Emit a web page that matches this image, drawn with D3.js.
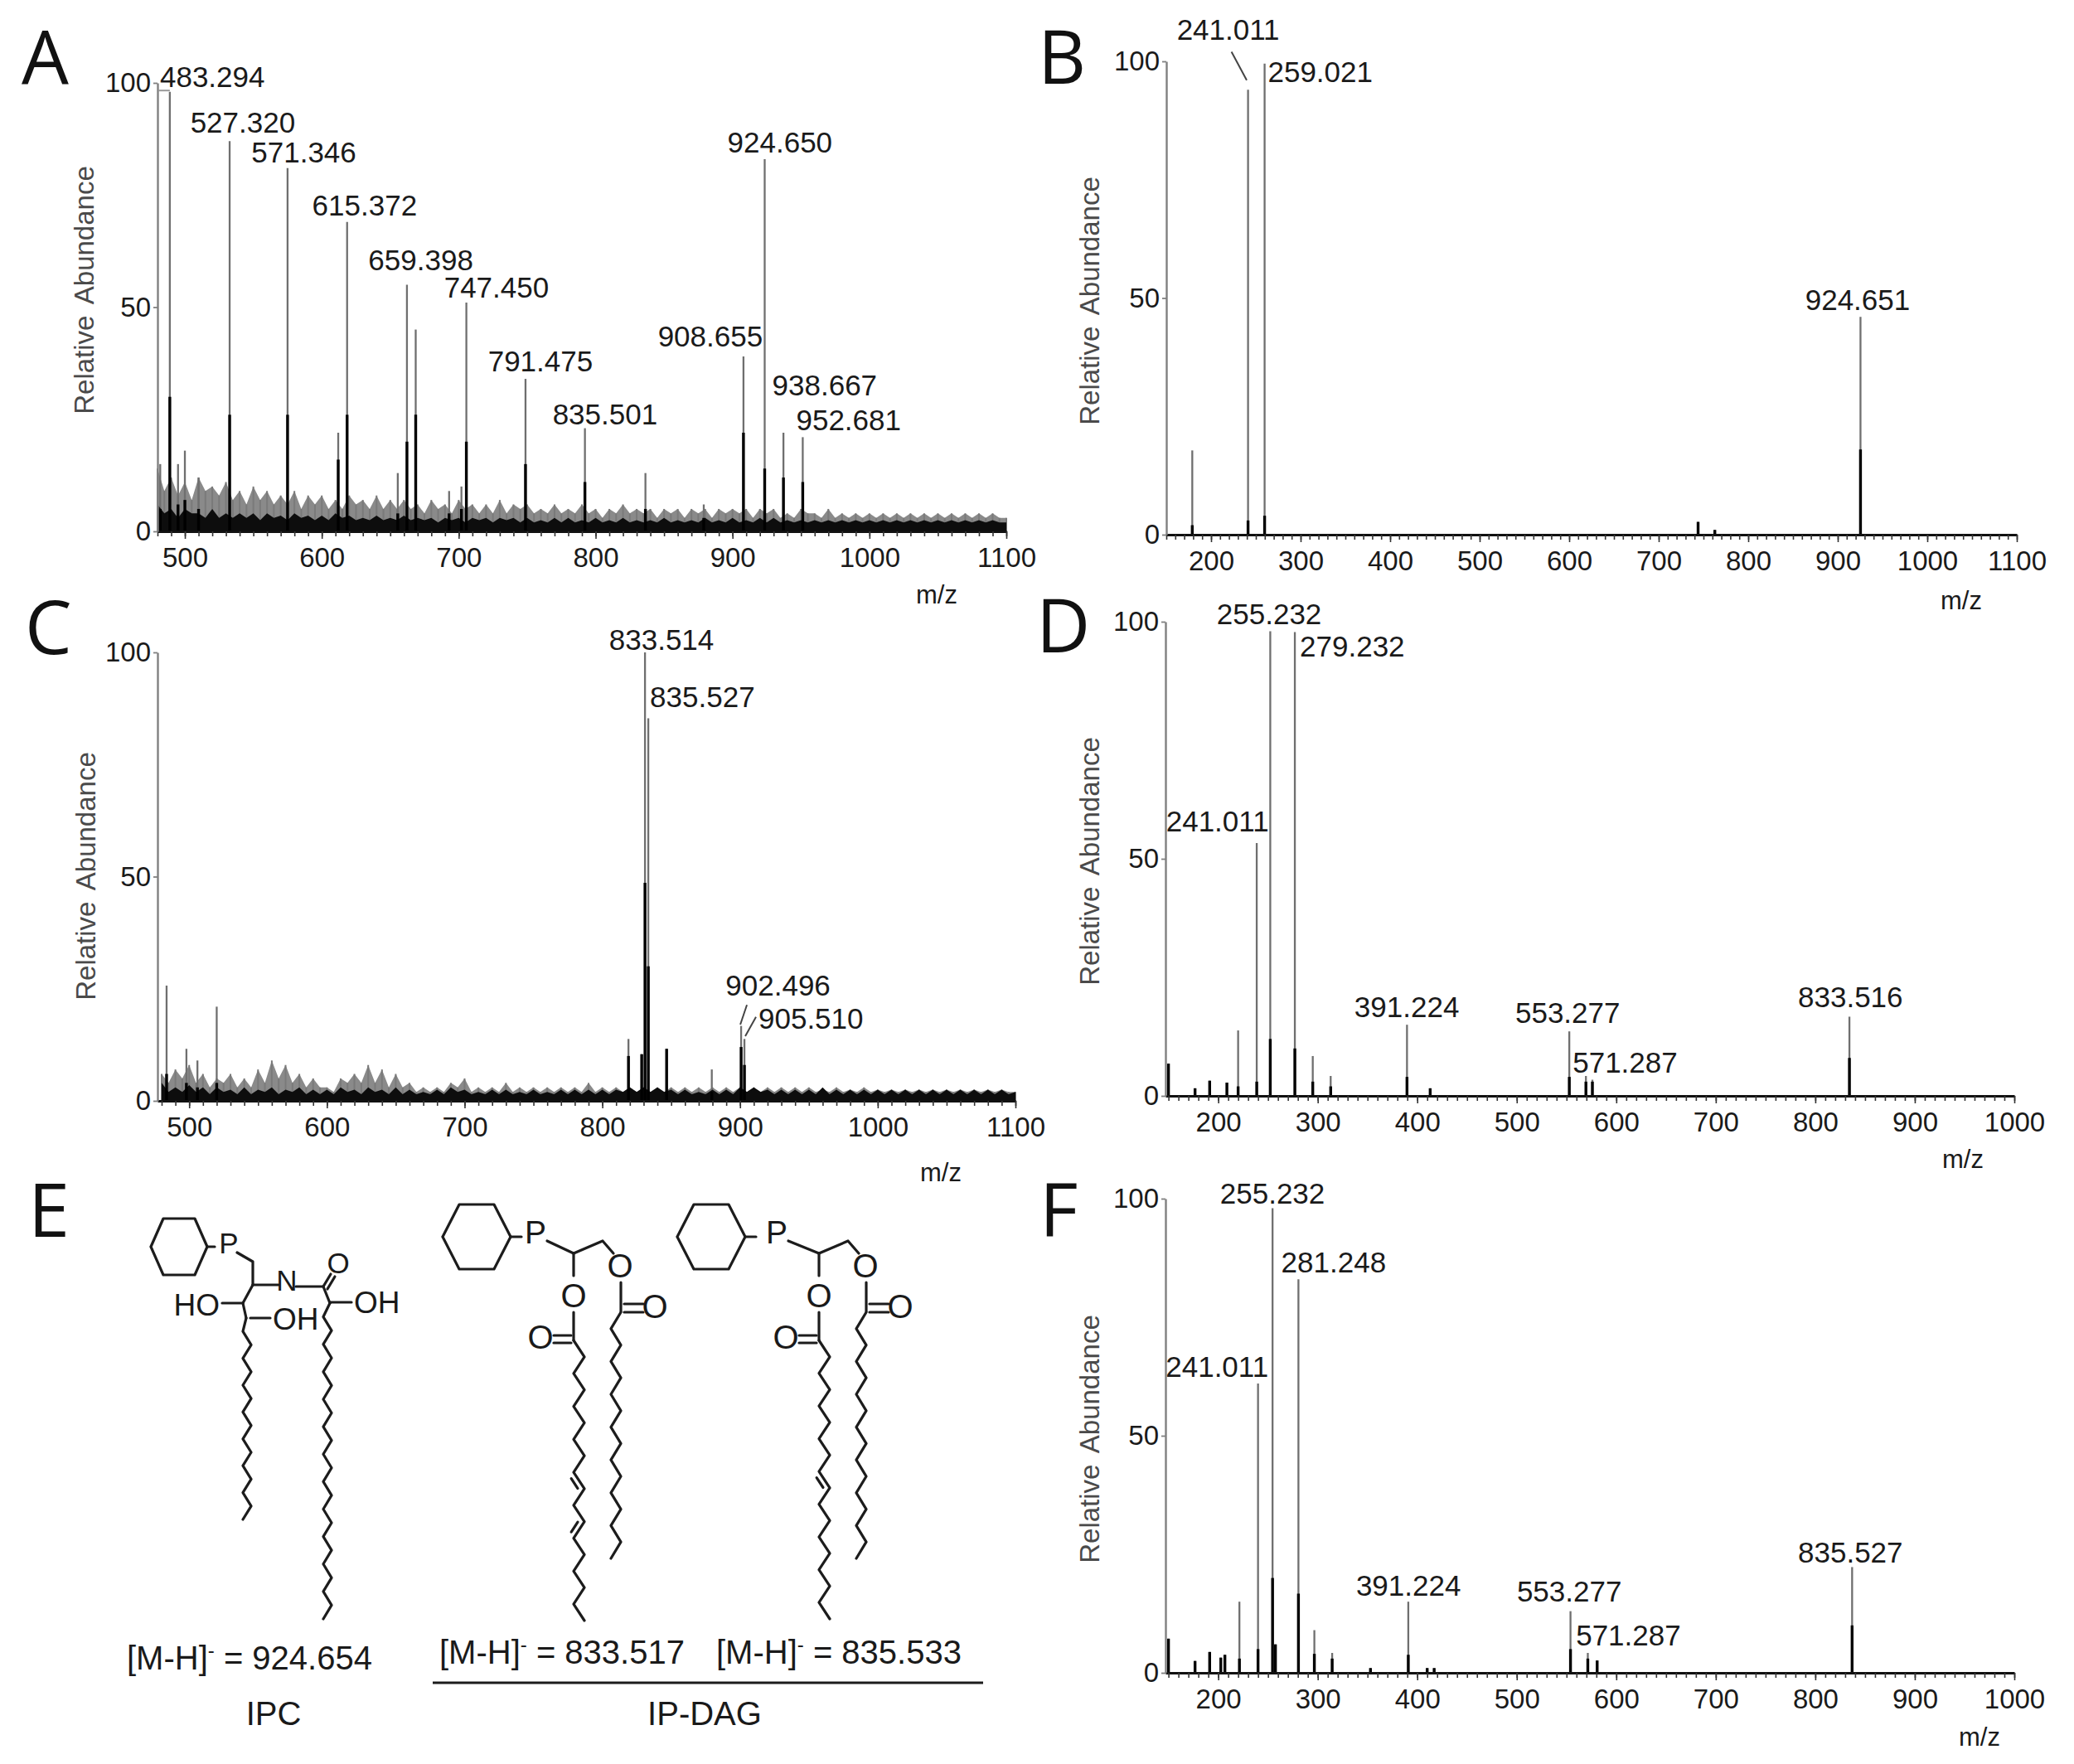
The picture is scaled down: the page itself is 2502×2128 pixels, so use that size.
<!DOCTYPE html>
<html><head><meta charset="utf-8">
<script src="https://cdn.jsdelivr.net/npm/d3@7"></script>
<style>
body{margin:0;background:#fff}
text{font-family:"Liberation Sans",Arimo,Arial,sans-serif;fill:#1a1a1a}
</style>
</head><body><script>
// ---------------- DATA ----------------
// noise grid (m/z) for panels A and C
const noiseStart = 480, noiseStep = 5, noiseEnd = 1100;

// Panel A (full MS)
const ticksA = [500,600,700,800,900,1000,1100];
const peaksA_mz   = [482, 489, 495, 500, 510, 532.7, 575, 612, 618.5, 655.5, 662.2, 668.6, 693, 702, 705.6, 748.8, 792.2, 836.4, 879, 908, 923.5, 937.2, 951.3];
const peaksA_int  = [15, 98, 15, 18, 12, 87, 81, 22, 69, 13, 55, 45, 9, 10, 51, 34, 23, 13, 6, 39, 83, 22, 21];
const peaksA_core = [5, 30, 6, 7, 5, 26, 26, 16, 26, 4, 20, 26, 4, 5, 20, 15, 11, 5, 3, 22, 14, 12, 11];
const labelsA_text = ["483.294","527.320","571.346","615.372","659.398","747.450","791.475","835.501","908.655","924.650","938.667","952.681"];
const labelsA_mz   = [481.8, 542.3, 586.9, 631.3, 672.3, 727.6, 759.7, 806.9, 883.8, 934.6, 967.3, 984.8];
const labelsA_ab   = [99.1, 88.9, 82.3, 70.4, 58.2, 52.1, 35.7, 23.8, 41.2, 84.5, 30.3, 22.6];
const labelsA_anchor = ["start","middle","middle","middle","middle","middle","middle","middle","middle","middle","middle","middle"];
const noiseA_gray = [
 14,9,12,8,11,7,12,9,10,8,11,7,
 9,6,10,7,9,6,8,6,9,5,8,6,
 8,5,7,5,8,6,7,5,8,5,7,5,
 7,5,6,4,7,5,6,4,7,5,6,4,
 6,4,7,4,6,5,6,4,5,4,6,4,
 5,4,6,4,5,3,5,4,6,4,5,4,
 5,3,5,4,5,3,5,4,5,3,5,4,
 5,4,5,3,5,4,5,3,4,3,5,4,
 4,3,5,3,4,3,4,3,4,3,4,3,
 4,3,4,3,4,3,4,3,4,3,4,3,
 4,3,4,3,3];
const noiseA_black = [
 6,4,5,3,5,4,4,3,5,3,4,3,
 4,3,4,2.5,4,3,3.5,2.5,4,3,3.5,2.5,
 3.5,2.5,4,3,3.5,2.5,3,2.5,3.5,2.5,3,2.5,
 3.5,2.5,3,2.5,3,2,3,2.5,3,2,3,2.5,
 3,2,3,2.5,3,2,3,2,2.5,2,3,2,
 3,2,2.5,2,3,2,2.5,2,3,2,2.5,2,
 2.5,2,3,2,2.5,2,2.5,2,3,2,2.5,2,
 3,2,2.5,2,3,2,3,2,2.5,2,2.5,2,
 2.5,2,2.5,2,2.5,2,2.5,2,2.5,2,2.5,2,
 2.5,2,2.5,2,2.5,2,2.5,2,2.5,2,2.5,2,
 2.5,2,2.5,2,2];

// Panel B (MS/MS of 924.65)
const ticksB = [200,300,400,500,600,700,800,900,1000,1100];
const peaksB_mz   = [179, 241.3, 259.8, 744, 762.7, 925.4];
const peaksB_int  = [17.8, 94, 99.5, 2.7, 1, 46];
const peaksB_core = [2, 3, 4, 2.7, 1, 18];
const labelsB_text = ["241.011","259.021","924.651"];
const labelsB_mz   = [219.1, 263.4, 922.2];
const labelsB_ab   = [104.6, 95.6, 47.5];
const labelsB_anchor = ["middle","start","middle"];

// Panel C (full MS)
const ticksC = [500,600,700,800,900,1000,1100];
const peaksC_mz   = [483.6, 498, 506, 520, 819, 828.6, 831, 833.4, 846.7, 879.5, 900.8, 903.2];
const peaksC_int  = [25.7, 11.6, 9, 21, 13.8, 10.4, 100, 85.3, 11.6, 7, 16.7, 13.8];
const peaksC_core = [6, 4, 3, 4, 10, 10.4, 48.6, 30, 11.6, 2, 12, 8];
const labelsC_text = ["833.514","835.527","902.496","905.510"];
const labelsC_mz   = [843, 834.6, 927.6, 913.4];
const labelsC_ab   = [100.6, 87.8, 23.4, 16.1];
const labelsC_anchor = ["middle","start","middle","start"];
const noiseC_gray = [
 6,4,7,5,8,4,6,3,5,4,6,3,
 5,3,7,4,9,5,8,4,6,3,5,3,
 3,2,5,4,6,4,8,4,7,3,6,3,
 4,2,3,2,3,2,4,3,5,2,3,2,
 3,2,4,2,3,2,3,2,3,2,3,2,
 3,2,4,2,3,2,3,2,3,2,3,2,
 3,2,3,2,3,2,3,2,3,2,3,2,
 3,2,3,2,3,2,3,2,3,2,3,2,
 2.5,2,3,2,2.5,2,3,2,2.5,2,2.5,2,
 2.5,2,2.5,2,2.5,2,2.5,2,2.5,2,2.5,2,
 2.5,2,2.5,2,2];
const noiseC_black = [
 4,2,3,2,3.5,2,3,1.5,3,2,2.5,1.5,
 3,1.5,2.5,2,3,1.5,2.5,2,3,1.5,2.5,1.5,
 2.5,1.5,3,2,2.5,1.5,3,2,2.5,1.5,3,1.5,
 2.5,1.5,2,1.5,2.5,1.5,3,2,2.5,1.5,2,1.5,
 2.5,1.5,2.5,1.5,2,1.5,2.5,1.5,2,1.5,2.5,1.5,
 2.5,1.5,2.5,1.5,2.5,1.5,2.5,2,3,2,3,2,
 3,2,2.5,1.5,2.5,1.5,2,1.5,2.5,1.5,2.5,1.5,
 3,2,3,2,2.5,1.5,2.5,1.5,2.5,1.5,2.5,1.5,
 3,1.5,2.5,1.5,2.5,1.5,2.5,1.5,2.5,1.5,2.5,1.5,
 2.5,1.5,2.5,1.5,2.5,1.5,2.5,1.5,2.5,1.5,2.5,1.5,
 2.5,1.5,2.5,1.5,2];

// Panel D (MS/MS of 833.5)
const ticksD = [200,300,400,500,600,700,800,900,1000];
const peaksD_mz   = [150, 176.7, 191.4, 208.7, 220, 238.7, 252.3, 277, 295, 313, 389.7, 413, 552.8, 569.5, 576, 834.3];
const peaksD_int  = [6.8, 1.6, 3.2, 2.8, 13.8, 53.3, 98, 97.8, 8.4, 4.2, 15, 1.6, 13.6, 4.2, 3.4, 16.7];
const peaksD_core = [6.8, 1.6, 3.2, 2.8, 2, 3, 12, 10, 3, 2, 4, 1.6, 4, 3, 3, 8];
const labelsD_text = ["255.232","279.232","241.011","391.224","553.277","571.287","833.516"];
const labelsD_mz   = [251.2, 282, 147.6, 389.5, 551.2, 556.2, 835.3];
const labelsD_ab   = [99.5, 92.7, 55.8, 16.6, 15.4, 4.9, 18.7];
const labelsD_anchor = ["middle","start","start","middle","middle","start","middle"];

// Panel F (MS/MS of 835.5)
const ticksF = [200,300,400,500,600,700,800,900,1000];
const peaksF_mz   = [150, 176.7, 191.4, 202.6, 206.7, 221.3, 240, 254.6, 257.5, 280.6, 296.6, 314.5, 353, 391, 410, 417, 554, 571.4, 580.8, 837];
const peaksF_int  = [7.2, 2.5, 4.4, 3.2, 3.8, 15, 61, 98, 6, 83, 9, 4.2, 1, 15, 1, 1, 13, 4.2, 2.6, 22.3];
const peaksF_core = [7.2, 2.5, 4.4, 3.2, 3.8, 3, 5, 20, 6, 16.7, 4, 3, 1, 3.8, 1, 1, 5, 3, 2.6, 10];
const labelsF_text = ["255.232","281.248","241.011","391.224","553.277","571.287","835.527"];
const labelsF_mz   = [254.5, 263.3, 147.2, 391.2, 552.8, 559.5, 835.3];
const labelsF_ab   = [99, 84.4, 62.4, 16.3, 15, 5.8, 23.3];
const labelsF_anchor = ["middle","start","start","middle","middle","start","middle"];

// Panel E text
const formulaMasses = ["924.654","833.517","835.533"];
const classNames = ["IPC","IP-DAG"];

// ---------------- DRAWING ----------------
const W = 2502, H = 2128;
const FONT = '"Liberation Sans",Arimo,Arial,sans-serif';
const svg = d3.select("body").append("svg").attr("width", W).attr("height", H)
  .attr("viewBox", `0 0 ${W} ${H}`);
svg.append("rect").attr("width", W).attr("height", H).attr("fill", "#fff");

const noiseGrid = d3.range(noiseStart, noiseEnd + 0.01, noiseStep);

function spectrum(c) {
  const g = svg.append("g");
  const x = d3.scaleLinear().domain(c.domain).range([c.x0, c.x1]);
  const y = d3.scaleLinear().domain([0, 100]).range([c.yBase, c.yTop]);
  const n = Math.min(noiseGrid.length, c.noiseGray ? c.noiseGray.length : 0);
  const area = d3.area().x((d, i) => x(noiseGrid[i])).y0(y(0)).y1(d => y(d)).curve(d3.curveLinear);

  if (c.noiseGray) {
    const gd = c.noiseGray.slice(0, n);
    g.append("path").datum(gd).attr("d", area).attr("fill", "#8a8a8a");
    g.selectAll("line.ng").data(gd).join("line").attr("class", "ng")
      .attr("x1", (d, i) => x(noiseGrid[i])).attr("x2", (d, i) => x(noiseGrid[i]))
      .attr("y1", y(0)).attr("y2", d => y(d)).attr("stroke", "#7a7a7a").attr("stroke-width", 2);
  }
  // tall (gray) part of peaks
  g.selectAll("line.pk").data(c.mz).join("line").attr("class", "pk")
    .attr("x1", d => x(d)).attr("x2", d => x(d))
    .attr("y1", y(0)).attr("y2", (d, i) => y(c.int[i]))
    .attr("stroke", "#6f6f6f").attr("stroke-width", 2.3);
  if (c.noiseBlack) {
    g.append("path").datum(c.noiseBlack.slice(0, n)).attr("d", area).attr("fill", "#0d0d0d");
  }
  // black core of peaks
  g.selectAll("line.core").data(c.mz).join("line").attr("class", "core")
    .attr("x1", d => x(d)).attr("x2", d => x(d))
    .attr("y1", y(0)).attr("y2", (d, i) => y(c.core[i]))
    .attr("stroke", "#000").attr("stroke-width", 3.4);

  // x axis: minor ticks
  const minor = d3.range(Math.ceil(c.domain[0] / 10) * 10, c.domain[1] + 0.01, 10);
  g.append("g").attr("transform", `translate(0,${c.yBase})`)
    .call(d3.axisBottom(x).tickValues(minor).tickSize(6).tickSizeOuter(0).tickFormat(""))
    .call(a => a.selectAll("line").attr("stroke", "#333").attr("stroke-width", 1.6))
    .call(a => a.select(".domain").attr("stroke", "#111").attr("stroke-width", 3));
  // x axis: major ticks + labels
  g.append("g").attr("transform", `translate(0,${c.yBase})`)
    .call(d3.axisBottom(x).tickValues(c.ticks).tickFormat(d3.format("d")).tickSize(9).tickSizeOuter(0).tickPadding(11))
    .call(a => a.select(".domain").remove())
    .call(a => a.selectAll("line").attr("stroke", "#333").attr("stroke-width", 1.6))
    .call(a => a.selectAll("text").attr("font-size", 33).attr("fill", "#1a1a1a").attr("font-family", FONT));
  // y axis
  g.append("g").attr("transform", `translate(${c.x0},0)`)
    .call(d3.axisLeft(y).tickValues([0, 50, 100]).tickFormat(d3.format("d")).tickSize(5).tickSizeOuter(0).tickPadding(3))
    .call(a => a.select(".domain").attr("stroke", "#808080").attr("stroke-width", 2.4))
    .call(a => a.selectAll("line").attr("stroke", "#808080").attr("stroke-width", 1.8))
    .call(a => a.selectAll("text").attr("font-size", 33).attr("fill", "#1a1a1a").attr("font-family", FONT));

  // peak labels
  g.selectAll("text.lab").data(c.labels).join("text").attr("class", "lab")
    .attr("x", (d, i) => x(c.labMz[i])).attr("y", (d, i) => y(c.labAb[i]))
    .attr("text-anchor", (d, i) => c.labAnchor[i])
    .attr("font-size", 35).text(d => d);
  // leader lines
  (c.leaders || []).forEach(L => {
    g.append("line").attr("x1", x(L[0])).attr("y1", y(L[1])).attr("x2", x(L[2])).attr("y2", y(L[3]))
      .attr("stroke", L[4] || "#444").attr("stroke-width", 2);
  });
  // axis titles
  g.append("text").attr("transform", `translate(${c.titleX},${c.titleY}) rotate(-90)`)
    .attr("text-anchor", "middle").attr("dominant-baseline", "central")
    .attr("font-size", 33).attr("word-spacing", 6).style("fill", "#4a4a4a").text("Relative Abundance");
  g.append("text").attr("x", c.mzX).attr("y", c.mzY).attr("text-anchor", "middle")
    .attr("font-size", 31).text("m/z");
}

spectrum({x0: 190, x1: 1214, yTop: 100, yBase: 641, domain: [480, 1100], ticks: ticksA,
  mz: peaksA_mz, int: peaksA_int, core: peaksA_core, noiseGray: noiseA_gray, noiseBlack: noiseA_black,
  labels: labelsA_text, labMz: labelsA_mz, labAb: labelsA_ab, labAnchor: labelsA_anchor,
  leaders: [[480.6, 98.3, 489, 98.3, "#999"]],
  titleX: 101, titleY: 350, mzX: 1130, mzY: 728});

spectrum({x0: 1407, x1: 2433, yTop: 74, yBase: 645, domain: [150, 1100], ticks: ticksB,
  mz: peaksB_mz, int: peaksB_int, core: peaksB_core,
  labels: labelsB_text, labMz: labelsB_mz, labAb: labelsB_ab, labAnchor: labelsB_anchor,
  leaders: [[222.8, 102, 239.8, 96]],
  titleX: 1314, titleY: 363, mzX: 2366, mzY: 735});

spectrum({x0: 190, x1: 1225, yTop: 787, yBase: 1328, domain: [477, 1100], ticks: ticksC,
  mz: peaksC_mz, int: peaksC_int, core: peaksC_core, noiseGray: noiseC_gray, noiseBlack: noiseC_black,
  labels: labelsC_text, labMz: labelsC_mz, labAb: labelsC_ab, labAnchor: labelsC_anchor,
  leaders: [[900.2, 17, 905, 21.4], [903.8, 14.4, 911.6, 18.7]],
  titleX: 103, titleY: 1057, mzX: 1135, mzY: 1425});

spectrum({x0: 1406, x1: 2430, yTop: 750, yBase: 1322, domain: [147, 1000], ticks: ticksD,
  mz: peaksD_mz, int: peaksD_int, core: peaksD_core,
  labels: labelsD_text, labMz: labelsD_mz, labAb: labelsD_ab, labAnchor: labelsD_anchor,
  titleX: 1314, titleY: 1039, mzX: 2368, mzY: 1409});

spectrum({x0: 1406, x1: 2430, yTop: 1446, yBase: 2018, domain: [147, 1000], ticks: ticksF,
  mz: peaksF_mz, int: peaksF_int, core: peaksF_core,
  labels: labelsF_text, labMz: labelsF_mz, labAb: labelsF_ab, labAnchor: labelsF_anchor,
  titleX: 1314, titleY: 1736, mzX: 2388, mzY: 2106});

// panel letters
const panelLetters = [["A", 26, 101], ["B", 1252, 101], ["C", 30, 789], ["D", 1250, 787], ["E", 34, 1492], ["F", 1254, 1492]];
svg.selectAll("text.pl").data(panelLetters).join("text").attr("class", "pl")
  .attr("x", d => d[1]).attr("y", d => d[2])
  .style("font-family", '"Open Sans","Noto Sans",sans-serif').attr("font-size", 90).style("fill", "#111")
  .text(d => d[0]);

// ---------------- Panel E: structures ----------------
const E = svg.append("g").attr("stroke", "#1c1c1c").attr("stroke-width", 3.2).attr("fill", "none")
  .attr("stroke-linejoin", "round").attr("stroke-linecap", "round");
const ET = svg.append("g");
const lineGen = d3.line();
function pl(pts) { E.append("path").attr("d", lineGen(pts)); }
function hex(cx, cy, r, hh, hw) {
  pl([[cx - r, cy], [cx - hw, cy - hh], [cx + hw, cy - hh], [cx + r, cy], [cx + hw, cy + hh], [cx - hw, cy + hh], [cx - r, cy]]);
}
function chain(x0, y0, xa, xb, nSteps, yEnd, dbl) {
  const step = (yEnd - y0) / nSteps;
  const pts = [[x0, y0]];
  for (let k = 1; k <= nSteps; k++) pts.push([k % 2 ? xa : xb, y0 + k * step]);
  pl(pts);
  (dbl || []).forEach(k => {
    const p = pts[k], q = pts[k + 1];
    const dx = q[0] - p[0], dy = q[1] - p[1], L = Math.hypot(dx, dy);
    let nx = -dy / L, ny = dx / L; if (nx > 0) { nx = -nx; ny = -ny; }
    const o = 6.5, s = 0.2;
    pl([[p[0] + dx * s + nx * o, p[1] + dy * s + ny * o], [q[0] - dx * s + nx * o, q[1] - dy * s + ny * o]]);
  });
}
function atom(t, x, y, size, anchor) {
  ET.append("text").attr("x", x).attr("y", y).attr("font-size", size)
    .attr("text-anchor", anchor || "middle").text(t);
}

// IPC
hex(216, 1504, 34, 34, 19);
pl([[250, 1504], [259, 1504]]);
atom("P", 276, 1512, 35);
pl([[286, 1511], [305, 1522], [305, 1550]]);
pl([[305, 1550], [336, 1550]]);
atom("N", 346, 1557, 35);
pl([[357, 1552], [390, 1552]]);
pl([[390, 1552], [399, 1537]]);
pl([[395, 1555], [404, 1540]]);
atom("O", 408, 1536, 35);
pl([[390, 1552], [398, 1572]]);
pl([[398, 1571], [424, 1571]]);
atom("OH", 427, 1584, 37, "start");
pl([[305, 1550], [293, 1572]]);
pl([[268, 1572], [293, 1572]]);
atom("HO", 265, 1587, 37, "end");
pl([[293, 1572], [297, 1590]]);
pl([[302, 1590], [326, 1590]]);
atom("OH", 329, 1604, 37, "start");
chain(297, 1590, 293, 303, 15, 1833);
chain(398, 1572, 390, 400, 23, 1953);

// IP-DAG structures
function dag(hx, px, dx, leftEnd, rightEnd, dbl) {
  hex(hx, 1492, 41, 39, 21);
  pl([[hx + 41, 1492], [hx + 54, 1492]]);
  atom("P", px, 1500, 39);
  pl([[px + 14, 1497], [692 + dx, 1512]]);
  pl([[692 + dx, 1512], [727 + dx, 1497], [740 + dx, 1512]]);
  atom("O", 748 + dx, 1541, 40);
  pl([[749 + dx, 1547], [749 + dx, 1582]]);
  pl([[753 + dx, 1573], [776 + dx, 1573]]);
  pl([[753 + dx, 1583], [776 + dx, 1583]]);
  atom("O", 790 + dx, 1590, 40);
  chain(749 + dx, 1583, 737 + dx, 749 + dx, 15, rightEnd);
  pl([[692 + dx, 1512], [692 + dx, 1539]]);
  atom("O", 692 + dx, 1577, 40);
  pl([[692 + dx, 1583], [692 + dx, 1617]]);
  pl([[668 + dx, 1611], [689 + dx, 1611]]);
  pl([[668 + dx, 1620], [689 + dx, 1620]]);
  atom("O", 652 + dx, 1627, 40);
  chain(692 + dx, 1617, 705 + dx, 692 + dx, 17, leftEnd, dbl);
}
dag(575, 646, 0, 1955, 1880, [8, 11]);
dag(858, 937, 296, 1953, 1880, [8]);

// formulas
const formulaPos = [[153, 2014], [530, 2007], [864, 2007]];
formulaPos.forEach((p, i) => {
  const t = ET.append("text").attr("x", p[0]).attr("y", p[1]).attr("font-size", 40);
  t.append("tspan").text("[M-H]");
  t.append("tspan").attr("dy", -15).attr("font-size", 24).text("-");
  t.append("tspan").attr("dy", 15).text(" = " + formulaMasses[i]);
});
E.append("line").attr("x1", 522).attr("x2", 1186).attr("y1", 2030).attr("y2", 2030).attr("stroke-linecap", "butt");
atom(classNames[0], 330, 2081, 40);
atom(classNames[1], 850, 2081, 40);
</script></body></html>
